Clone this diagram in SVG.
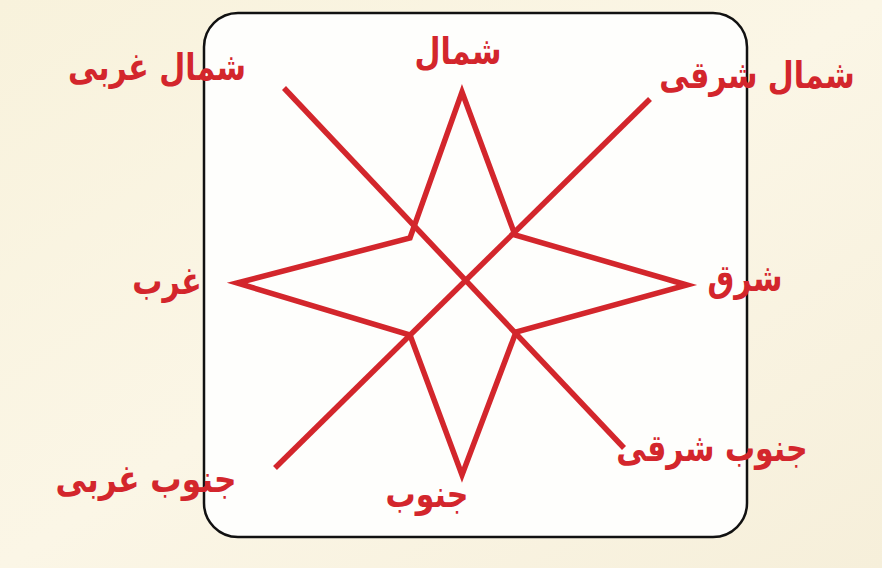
<svg xmlns="http://www.w3.org/2000/svg" width="882" height="568" viewBox="0 0 882 568">
<defs>
<style>
.lbl{font-family:"DejaVu Sans",sans-serif;font-weight:bold;font-size:30px;fill:#d3262c;text-anchor:middle}
.ln{stroke:#d3262c;stroke-width:5.5;fill:none;stroke-linejoin:miter;stroke-linecap:butt}
</style>
<linearGradient id="bg" x1="0" y1="0" x2="1" y2="1">
<stop offset="0" stop-color="#f8f2dc"/>
<stop offset="0.5" stop-color="#fbf6e6"/>
<stop offset="1" stop-color="#f6efda"/>
</linearGradient>
</defs>
<rect width="882" height="568" fill="url(#bg)"/>
<g id="frame">
<rect x="204" y="13" width="543" height="524" rx="34" ry="34" fill="#fefefc" stroke="#111" stroke-width="2.5"/>
</g>
<g id="connectors">
<polygon class="ln" points="462,92 515,235 687,285 516,332 462,475 410,335 237,283 410,238"/>
<line class="ln" x1="284" y1="88" x2="624" y2="448"/>
<line class="ln" x1="650" y1="99" x2="275" y2="468"/>
</g>
<g id="n_north"><text class="lbl" transform="translate(458,64) scale(1,1.25)">شمال</text></g>
<g id="n_northwest"><text class="lbl" transform="translate(157,80) scale(1,1.25)">شمال غربی</text></g>
<g id="n_northeast"><text class="lbl" transform="translate(757,88) scale(1,1.25)">شمال شرقی</text></g>
<g id="n_west"><text class="lbl" transform="translate(167,294) scale(1,1.25)">غرب</text></g>
<g id="n_east"><text class="lbl" transform="translate(745,291) scale(1,1.25)">شرق</text></g>
<g id="n_southwest"><text class="lbl" transform="translate(146,492) scale(1.04,1.25)">جنوب غربی</text></g>
<g id="n_south"><text class="lbl" transform="translate(427,507) scale(1,1.25)">جنوب</text></g>
<g id="n_southeast"><text class="lbl" transform="translate(712,461) scale(1,1.25)">جنوب شرقی</text></g>
</svg>
